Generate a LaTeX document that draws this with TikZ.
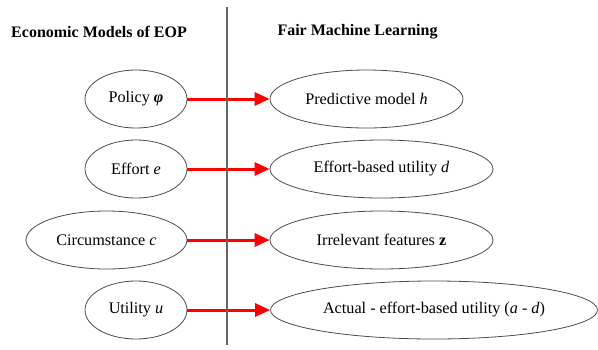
\documentclass[tikz,border=0pt]{standalone}
\usepackage{fontspec}
\setmainfont{Liberation Serif}
\usetikzlibrary{shapes.geometric,arrows.meta}

\tikzset{
  oval/.style={ellipse, draw=black!70, line width=0.8pt, inner sep=0pt,
    minimum height=58pt, font=\fontsize{16.2}{19}\selectfont},
  maps/.style={red, line width=3pt,
    -{Triangle[length=15pt,width=13pt]}},
  head/.style={font=\fontsize{16}{19}\selectfont\bfseries}
}

\begin{document}
\begin{tikzpicture}[x=1pt,y=-1pt]
      \useasboundingbox (0,0) rectangle (598,349);
      \node [head] (lhead) at (99,32) {Economic Models of EOP};
      \node [head] (rhead) at (357.5,32) {Fair Machine Learning};
      \node [oval, minimum width=102pt] (policy) at (136,99) {Policy \textbf{\textit{φ}}};
      \node [oval, minimum width=102pt] (effort) at (136,169) {Effort \textit{e}};
      \node [oval, minimum width=161pt] (circ) at (106.5,240) {Circumstance \textit{c}};
      \node [oval, minimum width=102pt] (util) at (136,310) {Utility \textit{u}};
      \node [oval, minimum width=193pt] (model) at (366.5,99) {Predictive model \textit{h}};
      \node [oval, minimum width=223pt] (edu) at (381.5,169) {Effort-based utility \textit{d}};
      \node [oval, minimum width=223pt] (feat) at (381.5,240) {Irrelevant features \textbf{z}};
      \node [oval, minimum width=327pt] (diff) at (434,310) {Actual - effort-based utility (\textit{a} - \textit{d})};
      \draw [maps] (policy) -- (model);
      \draw [maps] (effort) -- (edu);
      \draw [maps] (circ) -- (feat);
      \draw [maps] (util) -- (diff);
      \coordinate (top) at (227,7);
      \coordinate (bot) at (227,345);
      \draw [black!60, line width=2pt] (top) -- (bot);
    \end{tikzpicture}
\end{document}
